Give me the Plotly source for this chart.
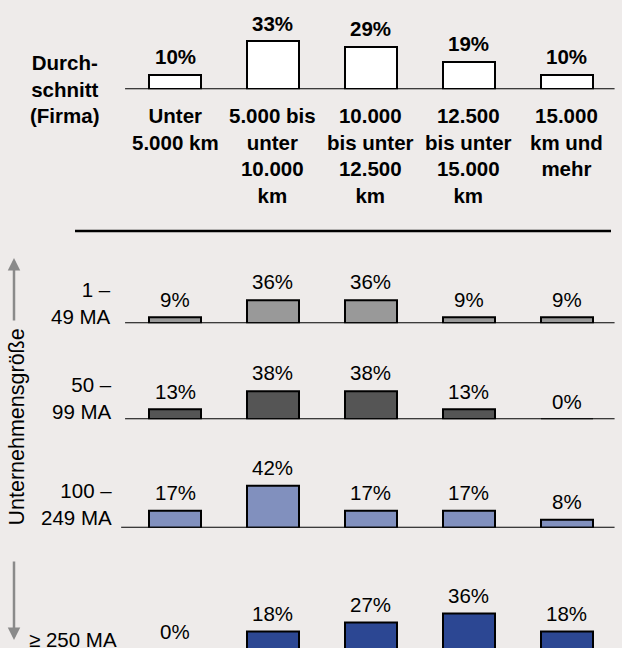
import plotly.graph_objs as go

# data
categories = ["Unter<br>5.000 km", "5.000 bis<br>unter<br>10.000<br>km",
              "10.000<br>bis unter<br>12.500<br>km", "12.500<br>bis unter<br>15.000<br>km",
              "15.000<br>km und<br>mehr"]
avg_firma = [10, 33, 29, 19, 10]
groups = ["1 –<br>49 MA", "50 –<br>99 MA", "100 –<br>249 MA", "≥ 250 MA"]
g_1_49 = [9, 36, 36, 9, 9]
g_50_99 = [13, 38, 38, 13, 0]
g_100_249 = [17, 42, 17, 17, 8]
g_250 = [0, 18, 27, 36, 18]

W, H = 622, 648
BG = "#EEEBEA"
FONT = "Liberation Sans, Arial, sans-serif"
FS = 20.5
xs = list(range(5))

# pixel geometry of the x axis: category centre 0 at 175px, step ~97.9px
x0px, step = 175, 97.9
xrange = [-x0px / step, (W - x0px) / step]

# panels: (values, colour, baseline px, px per %, bold labels, group label shift, label right px)
panels = [
    (avg_firma, "white", 89.3, 1.46, True, 0, 0),
    (g_1_49, "#999999", 323.3, 0.65, False, -6.4, 112.5),
    (g_50_99, "#555555", 419.3, 0.75, False, -5.4, 114),
    (g_100_249, "#8190BE", 527.7, 1.0, False, -3.3, 114),
    (g_250, "#2C4793", 649.5, 1.0, False, -4.7, 119),
]

fig = go.Figure()
layout = dict(
    width=W, height=H, margin=dict(l=0, r=0, t=0, b=0),
    paper_bgcolor=BG, plot_bgcolor=BG, showlegend=False,
    xaxis=dict(range=xrange, visible=False, fixedrange=True),
    bargap=0,
)
annotations = []
shapes = []
span = 80  # px of each panel above the baseline

for i, (vals, col, base, scale, bold, gshift, gx) in enumerate(panels):
    yname = "y" if i == 0 else "y%d" % (i + 1)
    lname = "yaxis" if i == 0 else "yaxis%d" % (i + 1)
    top_px = base - (span if i else base)
    bot_px = min(base, H)
    lo = (base - bot_px) / scale
    hi = lo + (bot_px - top_px) / scale
    layout[lname] = dict(domain=[1 - bot_px / H, 1 - top_px / H], range=[lo, hi],
                         visible=False, fixedrange=True, anchor="x")
    fig.add_trace(go.Bar(x=xs, y=vals, yaxis=yname, width=0.53,
                         marker=dict(color=col, line=dict(color="black", width=2)),
                         hoverinfo="skip"))
    for x, v in zip(xs, vals):
        # labels below the visible range are pinned to its edge and shifted
        yv = max(v, lo)
        annotations.append(dict(x=x, y=yv, xref="x", yref=yname, text="%d%%" % v,
                                showarrow=False, yanchor="bottom",
                                yshift=4.5 - (yv - v) * scale,
                                font=dict(size=FS, color="black", family=FONT,
                                          weight="bold" if bold else "normal")))
    xl = -0.55 if i == 3 else -0.51
    shapes.append(dict(type="line", xref="x", yref=yname, x0=xl, x1=4.49, y0=0, y1=0,
                       line=dict(color="black", width=2)))
    if i > 0:
        annotations.append(dict(x=gx / W, y=lo, xref="paper", yref=yname,
                                text=groups[i - 1], showarrow=False, xanchor="right",
                                yanchor="bottom", yshift=gshift, align="right",
                                font=dict(size=FS, color="black", family=FONT)))

# category labels under the top panel
for x, c in zip(xs, categories):
    annotations.append(dict(x=x, y=0, xref="x", yref="y", text=c, showarrow=False,
                            yanchor="top", yshift=-12.5,
                            font=dict(size=FS, color="black", family=FONT, weight="bold")))

annotations.append(dict(x=64 / W, y=1 - 88.5 / H, xref="paper", yref="paper",
                        text="Durch-<br>schnitt<br>(Firma)", showarrow=False,
                        xanchor="center", yanchor="middle",
                        font=dict(size=FS, color="black", family=FONT, weight="bold")))

# side title and arrows
annotations.append(dict(x=16.5 / W, y=1 - 427 / H, xref="paper", yref="paper",
                        text="Unternehmensgröße", textangle=-90, showarrow=False,
                        xanchor="center", yanchor="middle",
                        font=dict(size=21.5, color="black", family=FONT)))
annotations.append(dict(x=14 / W, y=1 - 258 / H, xref="paper", yref="paper", text="",
                        showarrow=True, ax=0, ay=64, arrowhead=2, arrowsize=1,
                        arrowwidth=2.5, arrowcolor="#8A8A8A"))
annotations.append(dict(x=14 / W, y=1 - 640 / H, xref="paper", yref="paper", text="",
                        showarrow=True, ax=0, ay=-80, arrowhead=2, arrowsize=1,
                        arrowwidth=2.5, arrowcolor="#8A8A8A"))

shapes.append(dict(type="line", xref="paper", yref="paper", x0=75 / W, x1=611 / W,
                   y0=1 - 231 / H, y1=1 - 231 / H, line=dict(color="black", width=2.5)))

layout["annotations"] = annotations
layout["shapes"] = shapes
fig.update_layout(**layout)
fig.write_html("out.html", config=dict(displayModeBar=False),
               post_script="document.body.style.margin='0';"
                           "document.body.style.background='%s';" % BG)
